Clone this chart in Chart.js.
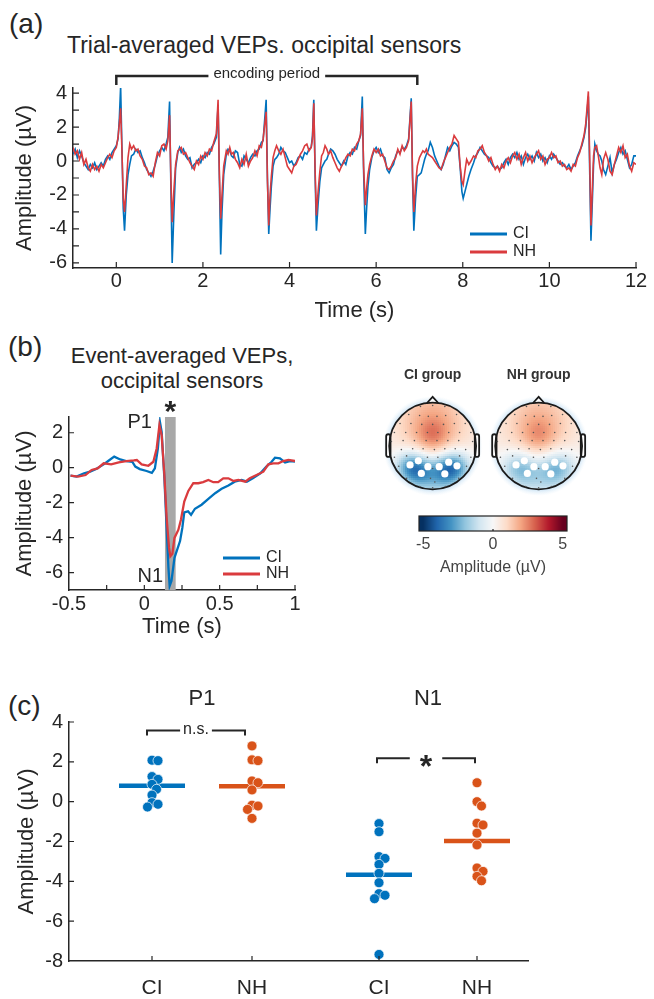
<!DOCTYPE html>
<html>
<head>
<meta charset="utf-8" />
<title>Trial- and event-averaged VEPs</title>
<script src="https://cdn.jsdelivr.net/npm/chart.js@4.4.1/dist/chart.umd.min.js"></script>
<style>
  body { margin: 0; background: #fff; }
  #page { position: relative; width: 654px; height: 999px; overflow: hidden; font-family: "Liberation Sans", Arial, sans-serif; color: #262626; }
  #page canvas { position: absolute; }
  .txt { position: absolute; white-space: nowrap; line-height: 1; }
</style>
<script>
// (a) trial-averaged VEP (s, µV)
const tA = [
  -1.00,-0.95,-0.90,-0.85,-0.80,-0.75,-0.70,-0.65,-0.60,-0.55,-0.50,-0.45,-0.40,-0.35,-0.30,-0.25,-0.20,-0.15,-0.10,-0.05,
  0.00,0.04,0.07,0.10,0.13,0.16,0.19,0.23,0.27,0.31,0.35,
  0.40,0.45,0.50,0.55,0.60,0.65,0.70,0.75,0.80,0.85,0.90,0.95,1.00,1.05,1.10,1.15,
  1.19,1.23,1.26,1.29,1.33,1.37,1.42,1.46,
  1.50,1.55,1.60,1.65,1.70,1.75,1.80,1.85,1.90,1.95,2.00,2.05,2.10,2.15,2.20,2.25,
  2.31,2.35,2.38,2.41,2.44,2.48,2.54,2.58,
  2.62,2.66,2.70,2.75,2.80,2.85,2.90,2.95,3.00,3.05,3.10,3.15,3.20,3.25,3.30,3.35,
  3.39,3.46,3.49,3.52,3.55,3.58,3.62,3.66,
  3.70,3.75,3.80,3.85,3.90,3.95,4.00,4.05,4.10,4.15,4.20,4.25,4.30,4.35,4.40,4.45,4.50,
  4.53,4.56,4.59,4.62,4.66,4.70,4.74,4.78,4.82,4.86,
  4.90,4.95,5.00,5.05,5.10,5.15,5.20,5.25,5.30,5.35,5.40,5.45,5.50,5.55,5.60,
  5.64,5.68,5.71,5.75,5.78,5.81,5.85,
  5.90,5.95,6.00,6.05,6.10,6.15,6.20,6.25,6.30,6.35,6.40,6.45,6.50,6.55,6.60,6.65,6.70,6.75,
  6.81,6.84,6.87,6.91,6.95,7.00,7.04,7.08,
  7.12,7.16,7.20,7.25,7.30,7.35,7.40,7.45,7.50,7.55,7.60,7.65,7.70,7.75,7.80,7.85,7.90,
  7.94,7.98,8.01,8.05,8.09,8.14,8.19,
  8.25,8.30,8.35,8.40,8.45,8.50,8.55,8.60,8.65,8.70,8.75,8.80,8.85,8.90,8.95,9.00,9.05,9.10,9.15,9.20,9.25,9.30,9.35,9.40,
  9.45,9.50,9.55,9.60,9.65,9.70,9.75,9.80,9.85,9.90,9.95,10.00,10.05,10.10,10.15,10.20,10.25,10.30,10.35,10.40,10.45,10.50,10.55,10.60,
  10.65,10.70,10.75,10.80,10.84,10.90,10.93,10.96,10.99,11.02,11.05,11.09,11.13,
  11.17,11.21,11.25,11.30,11.35,11.40,11.45,11.50,11.55,11.60,11.65,11.70,11.75,11.80,11.85,11.90,11.95,12.00
];
const ciA = [
  0.4,0.7,0.2,0.6,0.3,-0.1,-0.3,-0.5,-0.2,-0.4,-0.1,-0.5,-0.3,-0.1,-0.3,0.1,0.3,0.1,0.5,0.7,
  0.9,1.3,2.5,4.4,0.8,-2.8,-4.1,-2.0,-0.8,-0.2,0.3,
  0.4,0.7,0.5,0.6,0.2,-0.1,-0.5,-0.7,-0.9,-0.6,-0.2,0.3,0.6,0.8,0.6,1.0,
  1.4,3.5,-1.5,-6.0,-3.0,-0.4,0.5,0.8,
  0.5,0.7,0.3,0.1,0.2,-0.4,-0.2,-0.1,0.1,-0.1,0.3,0.2,0.5,0.4,0.8,1.0,
  1.4,3.3,-1.0,-5.5,-3.0,-0.8,0.4,0.7,
  0.6,0.3,0.2,0.6,0.5,-0.2,-0.3,0.3,0.1,-0.1,0.2,0.4,0.3,0.6,0.7,1.1,
  1.2,3.6,-1.0,-4.3,-2.8,-1.5,-0.3,0.1,
  0.2,0.4,0.8,0.6,0.5,0.2,-0.1,0.0,-0.3,-0.1,0.2,0.3,0.1,0.5,0.4,0.7,0.8,
  1.5,3.6,-0.8,-4.1,-2.5,-1.2,-0.4,-0.2,0.0,0.1,
  0.4,0.7,0.6,0.4,0.1,-0.1,-0.3,0.0,-0.2,0.3,0.5,0.4,0.8,0.7,1.2,
  1.5,3.8,-0.6,-4.3,-2.8,-1.5,-0.5,
  0.2,0.6,0.8,0.5,0.7,0.3,0.2,-0.5,-0.7,-0.4,-0.2,0.3,0.6,0.5,0.8,0.7,0.9,1.3,
  3.7,-1.0,-4.1,-2.2,-0.9,-0.8,-0.7,-0.3,
  0.1,0.4,0.6,1.1,0.8,0.3,0.0,-0.3,-0.5,-0.2,0.3,0.8,0.6,0.9,1.1,1.0,0.8,
  -0.4,-1.8,-2.2,-1.8,-1.4,-0.9,-0.5,
  -0.1,0.3,0.5,0.8,0.6,0.4,0.3,0.2,-0.1,-0.3,-0.4,-0.3,-0.5,-0.4,-0.1,0.1,-0.2,0.2,0.4,0.2,0.5,0.1,0.3,-0.2,
  0.2,0.4,0.1,0.3,0.0,0.5,0.2,0.4,0.0,0.2,-0.1,0.3,0.1,0.4,0.2,0.0,-0.2,-0.1,-0.3,-0.4,-0.2,-0.5,-0.3,-0.1,
  0.3,0.6,0.9,1.4,2.0,3.8,-0.5,-4.7,-2.5,-0.2,1.0,0.6,0.4,
  0.3,0.0,-0.5,-0.8,-0.3,0.2,-0.7,-0.2,0.1,0.5,0.8,0.4,0.6,0.1,-0.4,-0.2,0.3,0.3
];
const nhA = [
  0.8,0.4,0.6,0.1,0.5,-0.2,0.1,-0.4,-0.6,-0.2,-0.5,-0.3,-0.6,-0.2,-0.4,-0.1,0.2,0.4,0.2,0.6,
  0.8,1.4,2.2,3.1,0.6,-2.2,-3.0,-1.4,0.2,1.0,0.7,
  0.9,0.6,0.7,0.3,0.1,-0.3,-0.4,-0.8,-0.7,-0.9,-0.1,0.5,0.3,0.9,1.0,0.7,
  1.2,2.7,-1.0,-3.6,-1.7,-0.2,0.6,0.7,
  0.8,0.4,0.5,0.2,-0.1,-0.3,-0.5,0.0,-0.2,0.3,0.1,0.5,0.3,0.7,0.6,1.1,
  1.6,3.6,-0.8,-3.4,-2.0,-0.3,0.6,0.4,
  0.8,0.4,0.5,0.1,-0.1,-0.4,0.1,-0.2,0.4,-0.3,0.0,0.2,0.6,0.3,0.9,0.8,
  1.3,2.9,-1.2,-3.8,-2.0,-0.9,0.2,0.6,
  0.9,0.6,0.4,0.7,0.2,-0.3,-0.5,-0.7,-0.3,-0.2,0.1,0.4,0.6,0.9,1.0,0.6,0.8,
  1.3,3.4,-0.5,-3.2,-1.8,-0.6,0.3,0.5,0.9,0.7,
  0.4,0.6,0.2,-0.1,-0.4,-0.6,-0.3,-0.1,0.2,0.4,0.3,0.7,0.6,1.0,1.2,
  1.6,3.1,-0.3,-2.6,-1.6,-0.8,-0.2,
  0.3,0.7,0.5,0.7,0.3,0.4,0.0,-0.4,-0.5,-0.3,0.0,0.2,0.7,0.4,0.9,0.6,0.8,1.2,
  3.5,-0.8,-3.0,-1.4,-0.3,0.2,0.4,0.6,
  0.5,0.7,0.4,0.3,0.2,0.0,-0.2,-0.4,-0.5,-0.1,0.2,0.5,0.8,1.0,1.5,1.3,1.1,
  -0.3,-1.2,-1.4,-0.6,0.1,-0.2,0.0,
  0.3,0.2,0.6,0.7,0.9,0.5,0.3,0.0,0.2,-0.2,-0.5,-0.3,-0.6,-0.2,-0.4,0.0,0.2,-0.1,0.3,0.5,0.1,0.4,-0.2,0.2,
  0.5,0.0,0.3,-0.1,0.2,0.4,0.6,0.1,0.3,-0.2,0.1,0.2,0.5,0.2,0.3,-0.1,0.0,-0.3,-0.2,-0.5,-0.4,-0.6,-0.2,-0.3,
  0.2,0.5,1.0,1.5,2.2,4.1,0.2,-3.8,-1.8,0.3,0.8,0.9,0.3,
  -0.4,-0.8,0.1,0.5,0.1,-0.6,-0.8,-0.2,0.3,0.8,0.5,0.9,0.2,0.4,-0.3,-0.6,-0.1,-0.2
];
const encodingPeriod = [0, 6.95];

// (b) event-averaged VEP
const tCIb = [-0.49,-0.45,-0.40,-0.36,-0.32,-0.27,-0.24,-0.20,-0.16,-0.12,-0.08,-0.06,-0.03,0.015,0.05,0.07,0.09,0.104,0.115,0.133,
  0.148,0.16,0.168,0.18,0.2,0.237,0.252,0.265,0.29,0.31,0.336,0.38,0.425,0.47,0.513,0.558,0.6,0.646,0.68,0.72,
  0.77,0.81,0.845,0.867,0.9,0.934,0.967,1.0];
const ciB = [-0.46,-0.51,-0.32,-0.23,-0.08,0.19,0.38,0.63,0.47,0.38,0.34,0.06,-0.08,-0.19,-0.3,-0.04,1.1,2.6,2.05,-0.6,
  -3.45,-5.73,-6.77,-6.49,-5.16,-4.2,-3.45,-2.56,-2.5,-2.7,-2.35,-2.12,-1.78,-1.46,-1.21,-1.02,-0.8,-0.7,-0.8,-0.6,
  -0.32,0.06,0.34,0.57,0.53,0.3,0.38,0.34];
const tNHb = [-0.49,-0.44,-0.39,-0.35,-0.31,-0.27,-0.22,-0.17,-0.12,-0.07,-0.05,-0.018,0.027,0.06,0.082,0.1,0.115,0.133,0.148,0.164,
  0.173,0.186,0.2,0.226,0.243,0.265,0.292,0.325,0.358,0.39,0.425,0.458,0.49,0.524,0.558,0.592,0.624,0.67,0.7,0.745,
  0.79,0.823,0.856,0.89,0.922,0.956,1.0];
const nhB = [-0.46,-0.51,-0.42,-0.13,-0.04,0.25,0.19,0.3,0.38,0.42,0.44,0.19,0.11,0.34,1.1,2.43,1.86,-0.42,-2.88,-4.59,
  -5.07,-4.93,-4.02,-3.55,-2.98,-1.94,-1.33,-0.89,-0.89,-0.83,-0.7,-0.83,-0.83,-0.61,-0.61,-0.76,-0.7,-0.8,-0.61,-0.42,
  -0.23,0.19,0.25,0.25,0.38,0.44,0.38];
const sigWin = [0.137, 0.208];

// (b) topographies: electrode layout, occipital ROI and field sources [x, y, µV, width]
const electrodes = [
  [-0.28,0.88],[0,0.9],[0.28,0.88],
  [-0.55,0.7],[-0.3,0.68],[-0.1,0.66],[0.1,0.66],[0.3,0.68],[0.55,0.7],
  [-0.75,0.5],[-0.5,0.5],[-0.25,0.48],[0,0.48],[0.25,0.48],[0.5,0.5],[0.75,0.5],
  [-0.88,0.3],[-0.62,0.3],[-0.37,0.3],[-0.12,0.3],[0.12,0.3],[0.37,0.3],[0.62,0.3],[0.88,0.3],
  [-0.95,0.1],[-0.68,0.12],[-0.42,0.12],[-0.15,0.12],[0.1,0.12],[0.35,0.12],[0.6,0.12],[0.92,0.1],
  [-0.72,-0.08],[-0.46,-0.06],[-0.22,-0.06],[0.04,-0.08],[0.28,-0.06],[0.52,-0.06],[0.76,-0.08],
  [-0.88,-0.25],[-0.6,-0.22],[-0.12,-0.25],[0.12,-0.25],[0.62,-0.22],[0.88,-0.25],
  [-0.78,-0.45],[0.78,-0.45],[0,-0.5],
  [-0.6,-0.72],[-0.05,-0.72],[0.05,-0.8],[0.6,-0.72],
  [-0.3,-0.9],[0,-0.93],[0.3,-0.9]
];
const roiSensors = [[-0.52,-0.42],[-0.33,-0.33],[-0.11,-0.46],[-0.26,-0.61],[0.15,-0.46],[0.37,-0.36],[0.56,-0.44],[0.28,-0.62]];
const topoCI = [[0,0.5,1.9,0.65],[0,0.25,1.0,0.25],
  [-0.55,-0.45,-2.2,0.25],[-0.3,-0.55,-2.2,0.25],[0.3,-0.55,-2.3,0.25],[0.55,-0.45,-2.3,0.25],[0,-0.8,-1.2,0.35]];
const topoNH = [[0,0.5,1.7,0.65],[0,0.25,0.8,0.25],
  [-0.55,-0.45,-1.3,0.26],[-0.3,-0.55,-1.3,0.26],[0.3,-0.55,-1.4,0.26],[0.55,-0.45,-1.4,0.26],[0,-0.8,-0.8,0.35]];
const headX = [0, 2.44];
const headNames = ['CI group', 'NH group'];
const cbTicks = [-5, 0, 5];

// (c) per-subject peak amplitudes
const p1CI = [2.08,2.06,1.26,1.12,0.87,0.62,0.33,-0.05,-0.13,-0.27];
const p1NH = [2.8,2.1,2.06,1.04,0.95,0.59,-0.18,-0.22,-0.39,-0.84];
const n1CI = [-1.1,-1.51,-2.76,-2.85,-3.15,-3.6,-4.07,-4.62,-4.7,-4.87,-7.67];
const n1NH = [0.95,0.0,-0.22,-1.08,-1.17,-1.58,-2.17,-3.33,-3.5,-3.75,-3.97];
const groupMeans = [0.8, 0.78, -3.67, -1.97];
const catX = [1, 2, 3.27, 4.25];
const catLabels = ['CI', 'NH', 'CI', 'NH'];

const BLUE = '#0072BD', RED = '#DA3B3E', ORANGE = '#D95319', TXT = '#262626', AXIS = '#262626';
const FONT = '"Liberation Sans", Arial, sans-serif';

// RdBu, -5 .. 5 µV
const RDBU = [[5,48,97],[33,102,172],[67,147,195],[146,197,222],[209,229,240],[247,247,247],
  [253,219,199],[244,165,130],[214,96,77],[178,24,43],[103,0,31]];
function cmap(v) {
  const t = Math.max(0, Math.min(10, v + 5));
  const i = Math.min(9, Math.floor(t)), f = t - i;
  const a = RDBU[i], b = RDBU[i + 1];
  return 'rgb(' + [0, 1, 2].map(k => Math.round(a[k] + (b[k] - a[k]) * f)).join(',') + ')';
}

function pairs(xs, ys) {
  return xs.map((x, i) => ({ x: x, y: ys[i] }));
}

// simple beeswarm so that overlapping subjects spread sideways
function swarm(vals, cx) {
  const placed = [];
  return vals.map(v => {
    let off = 0;
    for (let k = 0; k < 40; k++) {
      off = (k % 2 ? 1 : -1) * Math.ceil(k / 2) * 0.015;
      if (placed.every(p => Math.hypot((p.x - off) * 100, (p.y - v) * 20) >= 6)) break;
    }
    placed.push({ x: off, y: v });
    return { x: cx + off, y: v };
  });
}

// plugins keep their settings in closures (not in chart options)
function innerTicks(len) {
  return {
    id: 'innerTicks',
    afterDraw(chart) {
      const { ctx, chartArea: a } = chart;
      const xs = chart.scales.x, ys = chart.scales.y;
      ctx.save();
      ctx.strokeStyle = AXIS;
      ctx.lineWidth = 1.2;
      ctx.beginPath();
      xs.ticks.forEach(t => {
        const p = xs.getPixelForValue(t.value);
        if (p <= a.left + 1) return;
        ctx.moveTo(p, a.bottom);
        ctx.lineTo(p, a.bottom - len);
      });
      ys.ticks.forEach(t => {
        const p = ys.getPixelForValue(t.value);
        if (p >= a.bottom - 1) return;
        ctx.moveTo(a.left, p);
        ctx.lineTo(a.left + len, p);
      });
      ctx.stroke();
      ctx.restore();
    }
  };
}

function lineLegend(o) {
  return {
    id: 'lineLegend',
    afterDraw(chart) {
      const { ctx, chartArea: a } = chart;
      ctx.save();
      ctx.font = o.size + 'px ' + FONT;
      ctx.textBaseline = 'middle';
      o.items.forEach((it, i) => {
        const y = a.bottom + o.dy + i * o.gap;
        ctx.strokeStyle = it.color;
        ctx.lineWidth = 3;
        ctx.beginPath();
        ctx.moveTo(a.right + o.dx1, y);
        ctx.lineTo(a.right + o.dx2, y);
        ctx.stroke();
        ctx.fillStyle = TXT;
        ctx.fillText(it.text, a.right + o.tdx, y);
      });
      ctx.restore();
    }
  };
}

function brackets(items) {
  return {
    id: 'brackets',
    afterDraw(chart) {
      const { ctx } = chart;
      const xs = chart.scales.x, ys = chart.scales.y;
      items.forEach(it => {
        const x1 = xs.getPixelForValue(it.from), x2 = xs.getPixelForValue(it.to);
        const y = ys.getPixelForValue(it.y), mid = (x1 + x2) / 2;
        ctx.save();
        ctx.font = it.font;
        const w = ctx.measureText(it.text).width / 2 + it.pad;
        ctx.strokeStyle = TXT;
        ctx.lineWidth = it.lw || 2;
        ctx.beginPath();
        ctx.moveTo(x1, y + it.tick);
        ctx.lineTo(x1, y);
        ctx.lineTo(mid - w, y);
        ctx.moveTo(mid + w, y);
        ctx.lineTo(x2, y);
        ctx.lineTo(x2, y + it.tick);
        ctx.stroke();
        ctx.fillStyle = TXT;
        ctx.textAlign = 'center';
        ctx.textBaseline = it.baseline || 'middle';
        ctx.fillText(it.text, mid, y + (it.shift || 0));
        ctx.restore();
      });
    }
  };
}

function sigWindow(from, to, color) {
  return {
    id: 'sigWindow',
    beforeDatasetsDraw(chart) {
      const { ctx, chartArea: a } = chart;
      const x1 = chart.scales.x.getPixelForValue(from), x2 = chart.scales.x.getPixelForValue(to);
      ctx.save();
      ctx.fillStyle = color;
      ctx.fillRect(x1, a.top, x2 - x1, a.bottom - a.top);
      ctx.restore();
    }
  };
}

function textMarks(items) {
  return {
    id: 'textMarks',
    afterDraw(chart) {
      const { ctx, chartArea: a } = chart;
      const xs = chart.scales.x, ys = chart.scales.y;
      items.forEach(it => {
        const px = xs.getPixelForValue(it.x);
        const py = ('y' in it ? ys.getPixelForValue(it.y) : a.top + it.dy) + (it.shift || 0);
        ctx.save();
        ctx.font = it.font;
        ctx.fillStyle = it.color || TXT;
        ctx.textAlign = it.align || 'center';
        ctx.textBaseline = it.baseline || 'middle';
        ctx.fillText(it.text, px, py);
        ctx.restore();
      });
    }
  };
}

function topoField(heads) {
  return {
    id: 'topoField',
    beforeDatasetsDraw(chart) {
      const { ctx } = chart;
      const xs = chart.scales.x, ys = chart.scales.y;
      const r = xs.getPixelForValue(1) - xs.getPixelForValue(0);
      heads.forEach(h => {
        const cx = xs.getPixelForValue(h.x), cy = ys.getPixelForValue(0);
        ctx.save();
        const g = ctx.createRadialGradient(cx, cy, r * 0.97, cx, cy, r * 1.15);
        g.addColorStop(0, 'rgba(185,216,240,0.95)');
        g.addColorStop(1, 'rgba(225,240,250,0)');
        ctx.fillStyle = g;
        ctx.beginPath();
        ctx.arc(cx, cy, r * 1.15, 0, Math.PI * 2);
        ctx.fill();

        ctx.beginPath();
        ctx.arc(cx, cy, r, 0, Math.PI * 2);
        ctx.clip();
        const step = 2;
        for (let px = Math.floor(cx - r); px < cx + r; px += step) {
          for (let py = Math.floor(cy - r); py < cy + r; py += step) {
            const ux = xs.getValueForPixel(px + step / 2) - h.x, uy = ys.getValueForPixel(py + step / 2);
            let v = 0;
            h.src.forEach(s => {
              const dx = ux - s[0], dy = uy - s[1];
              v += s[2] * Math.exp(-(dx * dx + dy * dy) / (2 * s[3] * s[3]));
            });
            ctx.fillStyle = cmap(v);
            ctx.fillRect(px, py, step, step);
          }
        }
        ctx.restore();

        ctx.save();
        ctx.strokeStyle = '#1a1a1a';
        ctx.lineWidth = 1.8;
        ctx.fillStyle = '#fff';
        [-1, 1].forEach(sd => {
          ctx.beginPath();
          ctx.roundRect(sd < 0 ? cx - 1.07 * r : cx + 0.97 * r, cy - 0.27 * r, 0.1 * r, 0.52 * r, 3);
          ctx.fill();
          ctx.stroke();
        });
        ctx.beginPath();
        ctx.moveTo(cx - 0.13 * r, cy - 0.99 * r);
        ctx.lineTo(cx, cy - 1.13 * r);
        ctx.lineTo(cx + 0.13 * r, cy - 0.99 * r);
        ctx.fill();
        ctx.stroke();
        ctx.beginPath();
        ctx.arc(cx, cy, r, 0, Math.PI * 2);
        ctx.stroke();
        ctx.restore();
      });
    }
  };
}

const colorBar = {
  id: 'colorBar',
  afterDraw(chart) {
    const { ctx, chartArea: a } = chart;
    const xs = chart.scales.x;
    ctx.save();
    for (let px = Math.floor(a.left); px < a.right; px++) {
      ctx.fillStyle = cmap(xs.getValueForPixel(px + 0.5));
      ctx.fillRect(px, a.top, 1, a.bottom - a.top);
    }
    ctx.strokeStyle = '#222';
    ctx.lineWidth = 1.2;
    ctx.strokeRect(a.left, a.top, a.right - a.left, a.bottom - a.top);
    ctx.beginPath();
    ctx.moveTo(xs.getPixelForValue(0), a.bottom);
    ctx.lineTo(xs.getPixelForValue(0), a.bottom - 2);
    ctx.stroke();
    ctx.restore();
  }
};

function axisTicks(size, extra) {
  return Object.assign({ color: TXT, font: { size: size }, includeBounds: false, autoSkip: false, maxRotation: 0, padding: 6 }, extra);
}
const noGrid = { display: false, drawTicks: false };
const axisBorder = { color: AXIS, width: 1.5 };
const quiet = { legend: { display: false }, tooltip: { enabled: false } };

function drawAll() {
  Chart.defaults.font.family = FONT;
  Chart.defaults.color = TXT;

  new Chart(document.getElementById('chartA'), {
    type: 'line',
    data: {
      datasets: [
        { label: 'NH', data: pairs(tA, nhA), borderColor: RED, borderWidth: 1.6, pointRadius: 0, order: 0 },
        { label: 'CI', data: pairs(tA, ciA), borderColor: BLUE, borderWidth: 1.6, pointRadius: 0, order: 1 }
      ]
    },
    options: {
      responsive: false, animation: false, devicePixelRatio: 1,
      layout: { padding: { left: 0, right: 18, top: 28, bottom: 0 } },
      plugins: quiet,
      scales: {
        x: {
          type: 'linear', min: -1, max: 12, grid: noGrid, border: axisBorder,
          ticks: axisTicks(20, { stepSize: 2, padding: 1 }),
          title: { display: true, text: 'Time (s)', color: TXT, font: { size: 22 }, padding: { top: 0, bottom: 1 } },
          afterFit: s => { s.height = 57; }
        },
        y: {
          type: 'linear', min: -6.3, max: 4.3, grid: noGrid, border: axisBorder,
          ticks: axisTicks(20, { stepSize: 1, callback: v => (v % 2 === 0 ? String(v) : '') }),
          title: { display: true, text: 'Amplitude (µV)', color: TXT, font: { size: 22 }, padding: { top: 12, bottom: 0 } },
          afterFit: s => { s.width = 73; }
        }
      }
    },
    plugins: [
      innerTicks(6),
      lineLegend({ items: [{ text: 'CI', color: BLUE }, { text: 'NH', color: RED }], dx1: -166, dx2: -129, tdx: -123, dy: -34, gap: 18, size: 16 }),
      brackets([{ from: encodingPeriod[0], to: encodingPeriod[1], y: 5.0, tick: 9, lw: 2.5, text: 'encoding period', font: '15px ' + FONT, pad: 5, shift: -2 }])
    ]
  });

  new Chart(document.getElementById('chartB'), {
    type: 'line',
    data: {
      datasets: [
        { label: 'NH', data: pairs(tNHb, nhB), borderColor: RED, borderWidth: 2.3, pointRadius: 0, order: 0 },
        { label: 'CI', data: pairs(tCIb, ciB), borderColor: BLUE, borderWidth: 2.3, pointRadius: 0, order: 1 }
      ]
    },
    options: {
      responsive: false, animation: false, devicePixelRatio: 1,
      layout: { padding: { left: 0, right: 35, top: 27, bottom: 0 } },
      plugins: quiet,
      scales: {
        x: {
          type: 'linear', min: -0.5, max: 1, grid: noGrid, border: axisBorder,
          ticks: axisTicks(20, { stepSize: 0.25, padding: 2, callback: v => (Math.abs(v * 2 - Math.round(v * 2)) < 1e-6 ? String(v) : '') }),
          title: { display: true, text: 'Time (s)', color: TXT, font: { size: 22 }, padding: { top: 0, bottom: 0 } },
          afterFit: s => { s.height = 50; }
        },
        y: {
          type: 'linear', min: -7, max: 2.9, grid: noGrid, border: axisBorder,
          ticks: axisTicks(20, { stepSize: 2 }),
          title: { display: true, text: 'Amplitude (µV)', color: TXT, font: { size: 22 }, padding: { top: 12, bottom: 0 } },
          afterFit: s => { s.width = 69; }
        }
      }
    },
    plugins: [
      sigWindow(sigWin[0], sigWin[1], '#A8A8A8'),
      innerTicks(5),
      lineLegend({ items: [{ text: 'CI', color: BLUE }, { text: 'NH', color: RED }], dx1: -72, dx2: -35, tdx: -29, dy: -32, gap: 16, size: 16 }),
      textMarks([
        { x: 0.05, y: 2.57, text: 'P1', align: 'right', font: '20px ' + FONT },
        { x: 0.125, y: -6.25, text: 'N1', align: 'right', font: '20px ' + FONT },
        { x: (sigWin[0] + sigWin[1]) / 2, dy: -13, shift: 17, text: '*', baseline: 'alphabetic', font: 'bold 30px ' + FONT }
      ])
    ]
  });

  const headSets = [];
  headX.forEach(hx => {
    headSets.push({ data: roiSensors.map(e => ({ x: e[0] + hx, y: e[1] })), pointRadius: 3.6, backgroundColor: '#fff', borderWidth: 0 });
  });
  headX.forEach(hx => {
    headSets.push({ data: electrodes.map(e => ({ x: e[0] + hx, y: e[1] })), pointRadius: 0.8, backgroundColor: '#555', borderWidth: 0 });
  });
  new Chart(document.getElementById('topo'), {
    type: 'scatter',
    data: { datasets: headSets },
    options: {
      responsive: false, animation: false, devicePixelRatio: 1,
      layout: { padding: { left: 0, right: 0, top: 28, bottom: 6 } },
      plugins: quiet,
      scales: {
        x: { type: 'linear', display: false, min: -1.35, max: 3.76 },
        y: { type: 'linear', display: false, min: -1.29, max: 1.29 }
      }
    },
    plugins: [
      topoField([{ x: headX[0], src: topoCI }, { x: headX[1], src: topoNH }]),
      textMarks(headX.map((hx, i) => ({ x: hx, dy: -13, text: headNames[i], font: 'bold 14px ' + FONT, color: '#333' })))
    ]
  });

  new Chart(document.getElementById('cbar'), {
    type: 'scatter',
    data: { datasets: [] },
    options: {
      responsive: false, animation: false, devicePixelRatio: 1,
      layout: { padding: { left: 24, right: 28, top: 11, bottom: 0 } },
      plugins: quiet,
      scales: {
        x: {
          type: 'linear', min: -5.3, max: 5.3, grid: noGrid, border: { display: false },
          afterBuildTicks: s => { s.ticks = cbTicks.map(v => ({ value: v })); },
          ticks: { color: '#444', font: { size: 16 }, padding: 4, autoSkip: false, maxRotation: 0 },
          title: { display: true, text: 'Amplitude (µV)', color: '#444', font: { size: 16 }, padding: { top: 0, bottom: 3 } },
          afterFit: s => { s.height = 49; }
        },
        y: { type: 'linear', display: false, min: 0, max: 1 }
      }
    },
    plugins: [colorBar]
  });

  const groups = [p1CI, p1NH, n1CI, n1NH];
  const colors = [BLUE, ORANGE, BLUE, ORANGE];
  const dotSets = groups.map((g, i) => ({
    data: swarm(g, catX[i]), pointRadius: 5, backgroundColor: colors[i], borderColor: '#fff', borderWidth: 0.7
  }));
  const meanSets = groupMeans.map((m, i) => ({
    data: [{ x: catX[i] - 0.33, y: m }, { x: catX[i] + 0.33, y: m }],
    showLine: true, borderColor: colors[i], borderWidth: 4.5, pointRadius: 0
  }));
  new Chart(document.getElementById('chartC'), {
    type: 'scatter',
    data: { datasets: dotSets.concat(meanSets) },
    options: {
      responsive: false, animation: false, devicePixelRatio: 1,
      layout: { padding: { left: 0, right: 126, top: 42, bottom: 0 } },
      plugins: quiet,
      scales: {
        x: {
          type: 'linear', min: 0.17, max: 4.76, grid: noGrid, border: axisBorder,
          afterBuildTicks: s => { s.ticks = catX.map(v => ({ value: v })); },
          ticks: axisTicks(21, { padding: 15, callback: v => catLabels[catX.indexOf(v)] }),
          afterFit: s => { s.height = 38; }
        },
        y: {
          type: 'linear', min: -8, max: 4, grid: noGrid, border: axisBorder,
          ticks: axisTicks(20, { stepSize: 2 }),
          title: { display: true, text: 'Amplitude (µV)', color: TXT, font: { size: 22 }, padding: { top: 14, bottom: 0 } },
          afterFit: s => { s.width = 69; }
        }
      }
    },
    plugins: [
      innerTicks(5),
      brackets([
        { from: 0.95, to: 1.93, y: 3.57, tick: 5, text: 'n.s.', font: '16px ' + FONT, pad: 3, shift: -1 },
        { from: 3.25, to: 4.23, y: 2.18, tick: 5, text: '*', font: 'bold 32px ' + FONT, pad: 10, baseline: 'alphabetic', shift: 19 }
      ]),
      textMarks([
        { x: (catX[0] + catX[1]) / 2, dy: -23, text: 'P1', font: '22px ' + FONT },
        { x: (catX[2] + catX[3]) / 2, dy: -23, text: 'N1', font: '22px ' + FONT }
      ])
    ]
  });
}
</script>
</head>
<body onload="drawAll()">
<div id="page">
  <div class="txt" style="left:9px;top:10px;font-size:28px">(a)</div>
  <div class="txt" style="left:67px;top:34px;font-size:23px">Trial-averaged VEPs. occipital sensors</div>
  <canvas id="chartA" width="654" height="265" style="left:0;top:60px"></canvas>

  <div class="txt" style="left:8px;top:333px;font-size:28px">(b)</div>
  <div class="txt" style="left:32px;top:343px;width:300px;text-align:center;font-size:22px;line-height:25px">Event-averaged VEPs,<br>occipital sensors</div>
  <canvas id="chartB" width="330" height="250" style="left:0;top:390px"></canvas>
  <canvas id="topo" width="230" height="150" style="left:370px;top:360px"></canvas>
  <canvas id="cbar" width="200" height="75" style="left:395px;top:505px"></canvas>

  <div class="txt" style="left:8px;top:692px;font-size:28px">(c)</div>
  <canvas id="chartC" width="654" height="319" style="left:0;top:680px"></canvas>
</div>
</body>
</html>
